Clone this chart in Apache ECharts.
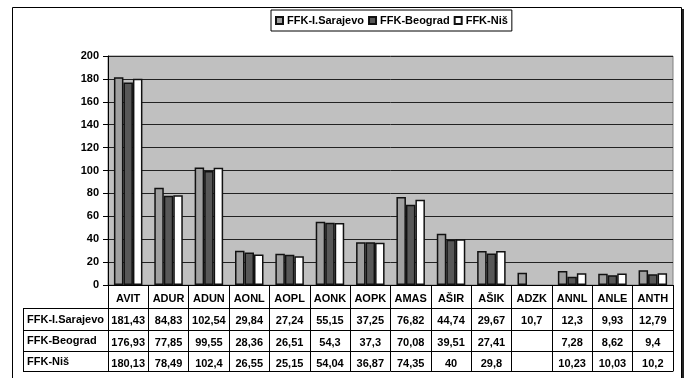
<!DOCTYPE html>
<html>
<head>
<meta charset="utf-8">
<script src="https://cdn.jsdelivr.net/npm/echarts@6/dist/echarts.min.js"></script>
<style>
html, body { margin: 0; padding: 0; background: #fff; }
#main { width: 686px; height: 378px; }
</style>
</head>
<body>
<div id="main"></div>
<script>
// 数据
var categories = ['AVIT', 'ADUR', 'ADUN', 'AONL', 'AOPL', 'AONK', 'AOPK', 'AMAS', 'AŠIR', 'AŠIK', 'ADZK', 'ANNL', 'ANLE', 'ANTH'];
var seriesNames = ['FFK-I.Sarajevo', 'FFK-Beograd', 'FFK-Niš'];
var sarajevo = [181.43, 84.83, 102.54, 29.84, 27.24, 55.15, 37.25, 76.82, 44.74, 29.67, 10.7, 12.3, 9.93, 12.79];
var beograd = [176.93, 77.85, 99.55, 28.36, 26.51, 54.3, 37.3, 70.08, 39.51, 27.41, null, 7.28, 8.62, 9.4];
var nis = [180.13, 78.49, 102.4, 26.55, 25.15, 54.04, 36.87, 74.35, 40, 29.8, null, 10.23, 10.03, 10.2];
var yTicks = [0, 20, 40, 60, 80, 100, 120, 140, 160, 180, 200];

var colors = ['#a0a0a0', '#585858', '#ffffff'];
var rows = [sarajevo, beograd, nis];

// 布局
var gridLeft = 108, gridRight = 13, gridTop = 56, gridBottom = 93;
var axisY = 378 - gridBottom;          // 0 线
var rowOffsets = [23, 45, 66, 86];      // 表格横线
var tableLeft = 23;

function fmt(v) {
    if (v === null || v === undefined) return '';
    return String(v).replace('.', ',');
}

var boldFont = { color: '#000', fontSize: 11, fontWeight: 'bold', fontFamily: 'Liberation Sans, Arial, sans-serif' };

var xAxes = [{
    type: 'category',
    data: categories,
    position: 'bottom',
    axisLine: { lineStyle: { color: '#000', width: 1 } },
    axisTick: { show: true, interval: 0, length: rowOffsets[3], lineStyle: { color: '#000' } },
    axisLabel: Object.assign({ interval: 0, margin: 8 }, boldFont),
    splitLine: { show: false }
}];
rows.forEach(function (row, r) {
    xAxes.push({
        type: 'category',
        data: categories,
        position: 'bottom',
        offset: rowOffsets[r],
        axisLine: { lineStyle: { color: '#000' } },
        axisTick: { show: false },
        axisLabel: Object.assign({
            interval: 0, margin: 7,
            formatter: function (v, i) { return fmt(row[i]); }
        }, boldFont)
    });
});
xAxes.push({
    type: 'category',
    data: categories,
    position: 'bottom',
    offset: rowOffsets[3],
    axisLine: { lineStyle: { color: '#000' } },
    axisTick: { show: false },
    axisLabel: { show: false }
});

// 左侧表头 + 外框
var graphics = [{
    type: 'rect',
    shape: { x: 12.5, y: 7.5, width: 669, height: 400 },
    style: { fill: null, stroke: '#000', lineWidth: 1 },
    z: 0, silent: true
}, {
    type: 'line',
    shape: { x1: 683, y1: 9, x2: 683, y2: 378 },
    style: { stroke: '#222', lineWidth: 2 },
    silent: true
}, {
    type: 'line',
    shape: { x1: tableLeft + 0.5, y1: axisY + rowOffsets[0], x2: tableLeft + 0.5, y2: axisY + rowOffsets[3] },
    style: { stroke: '#000', lineWidth: 1 },
    silent: true
}];
for (var k = 0; k < 4; k++) {
    graphics.push({
        type: 'line',
        shape: { x1: tableLeft, y1: axisY + rowOffsets[k] + 0.5, x2: gridLeft, y2: axisY + rowOffsets[k] + 0.5 },
        style: { stroke: '#000', lineWidth: 1 },
        silent: true
    });
}
seriesNames.forEach(function (name, r) {
    graphics.push({
        type: 'text',
        left: tableLeft + 4,
        top: axisY + (rowOffsets[r] + rowOffsets[r + 1]) / 2 - 5,
        style: Object.assign({ text: name, fill: '#000', font: 'bold 11px Liberation Sans, Arial, sans-serif' })
    });
});

var chart = echarts.init(document.getElementById('main'));
var option = {
    backgroundColor: '#fff',
    animation: false,
    legend: {
        data: seriesNames,
        left: 271,
        top: 10,
        itemWidth: 7,
        itemHeight: 7,
        itemGap: 4,
        padding: [5, 4, 5, 4],
        backgroundColor: '#fff',
        borderColor: '#000',
        borderWidth: 1,
        textStyle: Object.assign({ padding: [0, 0, 0, -1] }, boldFont),
        icon: 'rect'
    },
    grid: {
        left: gridLeft, right: gridRight, top: gridTop, bottom: gridBottom,
        show: true, backgroundColor: '#c0c0c0', borderColor: '#808080', borderWidth: 1
    },
    xAxis: xAxes,
    yAxis: {
        type: 'value',
        min: yTicks[0], max: yTicks[yTicks.length - 1], interval: 20,
        axisLine: { show: true, lineStyle: { color: '#000' } },
        axisTick: { show: true, length: 5, lineStyle: { color: '#000' } },
        axisLabel: Object.assign({ margin: 9 }, boldFont),
        splitLine: { lineStyle: { color: '#222', width: 1 } }
    },
    series: rows.map(function (row, r) {
        return {
            name: seriesNames[r],
            type: 'bar',
            xAxisIndex: 0,
            data: row.map(function (v) { return v === null ? '-' : v; }),
            barWidth: 9.5,
            barGap: '0%',
            itemStyle: { color: colors[r], borderColor: '#111', borderWidth: 1.5 }
        };
    }),
    graphic: graphics
};
chart.setOption(option);
</script>
</body>
</html>
